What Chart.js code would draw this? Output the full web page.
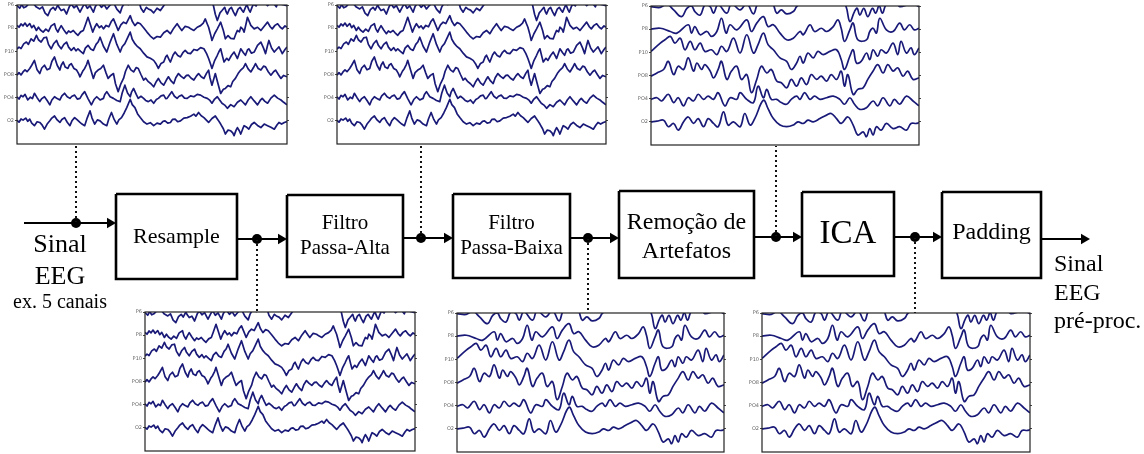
<!DOCTYPE html>
<html lang="pt">
<head>
<meta charset="UTF-8">
<title>Pré-processamento do sinal EEG</title>
<script src="https://cdn.jsdelivr.net/npm/chart.js"></script>
<style>
  html, body { margin: 0; padding: 0; background: #fff; }
  #stage { position: relative; width: 1144px; height: 454px; overflow: hidden; }
  #stage canvas { position: absolute; }
</style>
</head>
<body>
<div id="stage">
  <canvas id="flow" width="1144" height="454" style="left:0;top:0"></canvas>
</div>
<script>
// channel names, top to bottom
const channels = ['P6', 'P8', 'P10', 'PO8', 'PO4', 'O2'];

// raw / high-pass traces (panels before the low-pass): [time s, amplitude uV]
const rawP6 = [[0,-3],[0.04,-14],[0.07,2],[0.1,-12],[0.14,-6],[0.19,10],[0.24,8],[0.29,-9],[0.34,-17],[0.38,-8],[0.42,-35],[0.46,-46],[0.5,-20],[0.54,-10],[0.57,-22],[0.61,0],[0.63,-12],[0.66,-24],[0.7,-18],[0.74,-39],[0.78,-8],[0.81,4],[0.85,-12],[0.89,-3],[0.92,-20],[0.94,-31],[0.98,-8],[1.01,6],[1.05,-14],[1.09,-4],[1.14,-31],[1.17,-6],[1.21,10],[1.26,-10],[1.3,2],[1.34,-17],[1.39,0],[1.44,11],[1.49,-18],[1.54,-34],[1.57,-8],[1.61,11],[1.66,2],[1.71,12],[1.76,6],[1.82,15],[1.85,-14],[1.89,-31],[1.93,-10],[1.96,-17],[2.0,-22],[2.04,-34],[2.09,-14],[2.14,-24],[2.19,-3],[2.24,16],[2.3,25],[2.37,15],[2.45,30],[2.52,18],[2.6,20],[2.68,28],[2.75,35],[2.8,18],[2.86,20],[2.93,0],[2.96,-40],[2.99,-67],[3.03,-34],[3.06,-24],[3.1,-10],[3.12,-28],[3.14,-39],[3.17,-18],[3.2,-10],[3.23,-30],[3.26,-46],[3.3,-18],[3.33,-10],[3.36,-24],[3.38,-31],[3.41,-10],[3.43,2],[3.46,-20],[3.48,-31],[3.51,-8],[3.53,4],[3.57,-4],[3.6,19],[3.65,4],[3.7,10],[3.74,-3],[3.79,10],[3.84,4],[3.87,-8],[3.9,15],[3.96,2],[4.03,-3]];
const rawP8 = [[0,12],[0.03,4],[0.06,18],[0.09,10],[0.12,22],[0.15,8],[0.19,20],[0.22,2],[0.25,12],[0.29,-10],[0.32,4],[0.35,-8],[0.39,-17],[0.43,-4],[0.47,-14],[0.51,10],[0.56,19],[0.58,-2],[0.61,-17],[0.63,-4],[0.66,11],[0.7,-8],[0.74,-24],[0.77,-12],[0.8,-18],[0.84,-10],[0.87,-20],[0.91,-31],[0.95,-16],[0.99,-10],[1.02,14],[1.06,47],[1.09,20],[1.13,-17],[1.16,4],[1.19,19],[1.23,2],[1.26,10],[1.29,-3],[1.33,12],[1.37,6],[1.41,30],[1.44,40],[1.48,12],[1.51,-10],[1.55,14],[1.59,26],[1.63,20],[1.69,54],[1.72,30],[1.76,11],[1.8,24],[1.84,19],[1.89,2],[1.94,-17],[1.99,-34],[2.04,-46],[2.09,-36],[2.14,-39],[2.19,-20],[2.24,-10],[2.27,-18],[2.29,-24],[2.34,0],[2.39,19],[2.43,2],[2.46,-10],[2.51,8],[2.56,4],[2.6,-4],[2.64,-10],[2.69,4],[2.74,11],[2.78,22],[2.81,40],[2.84,18],[2.86,4],[2.89,-28],[2.91,-53],[2.95,-24],[2.99,-3],[3.02,14],[3.04,26],[3.08,-10],[3.11,-46],[3.15,-32],[3.19,-44],[3.24,-46],[3.27,-22],[3.29,-10],[3.32,-16],[3.34,4],[3.37,-4],[3.39,-17],[3.42,20],[3.44,47],[3.49,12],[3.54,-3],[3.59,4],[3.64,-10],[3.69,8],[3.74,26],[3.78,6],[3.81,-3],[3.85,12],[3.89,19],[3.93,4],[3.96,-3],[4.0,10],[4.03,4]];
const rawP10 = [[0,10],[0.03,18],[0.06,12],[0.1,32],[0.14,40],[0.17,30],[0.21,54],[0.25,44],[0.29,69],[0.32,50],[0.36,40],[0.4,58],[0.44,61],[0.47,30],[0.51,11],[0.55,34],[0.59,47],[0.62,26],[0.66,11],[0.7,30],[0.74,40],[0.77,18],[0.81,4],[0.85,16],[0.88,2],[0.91,11],[0.95,0],[0.99,-10],[1.02,14],[1.06,26],[1.1,10],[1.14,4],[1.18,30],[1.21,40],[1.24,61],[1.29,22],[1.34,-3],[1.39,40],[1.44,76],[1.49,30],[1.54,-3],[1.57,20],[1.61,33],[1.65,58],[1.69,83],[1.72,52],[1.76,33],[1.8,20],[1.84,11],[1.89,-8],[1.94,-24],[1.99,-30],[2.04,-39],[2.08,-56],[2.11,-74],[2.15,-52],[2.19,-46],[2.22,-24],[2.24,-17],[2.27,-36],[2.29,-46],[2.33,-16],[2.36,-3],[2.4,-18],[2.44,-24],[2.48,-4],[2.51,4],[2.55,-8],[2.59,-10],[2.64,8],[2.69,4],[2.74,16],[2.79,11],[2.83,-10],[2.86,-31],[2.89,-56],[2.91,-74],[2.95,-40],[2.99,-17],[3.02,2],[3.04,11],[3.07,-24],[3.09,-46],[3.13,-30],[3.16,-39],[3.2,-18],[3.24,-3],[3.27,-20],[3.29,-31],[3.32,-6],[3.34,11],[3.38,-6],[3.41,-17],[3.44,6],[3.46,11],[3.5,-8],[3.54,-3],[3.59,26],[3.64,40],[3.68,14],[3.71,-10],[3.74,26],[3.76,47],[3.8,14],[3.84,-3],[3.88,10],[3.91,19],[3.94,2],[3.96,-10],[4.0,8],[4.03,19]];
const rawPO8 = [[0,-3],[0.03,8],[0.06,-2],[0.09,11],[0.12,20],[0.15,12],[0.19,26],[0.22,40],[0.26,61],[0.3,20],[0.34,4],[0.37,28],[0.41,40],[0.45,20],[0.49,26],[0.52,56],[0.56,76],[0.6,40],[0.64,19],[0.66,40],[0.69,54],[0.72,32],[0.76,26],[0.78,40],[0.81,47],[0.85,26],[0.89,19],[0.92,4],[0.94,-10],[0.98,14],[1.01,26],[1.04,44],[1.06,61],[1.1,22],[1.14,-17],[1.17,8],[1.21,19],[1.25,26],[1.29,40],[1.33,6],[1.36,-17],[1.4,-4],[1.44,4],[1.47,-40],[1.51,-74],[1.55,-40],[1.59,-17],[1.62,14],[1.66,40],[1.7,20],[1.74,11],[1.78,30],[1.81,26],[1.85,0],[1.89,-24],[1.92,-16],[1.96,-31],[2.0,-40],[2.04,-53],[2.08,-30],[2.11,-17],[2.15,-36],[2.19,-46],[2.23,-24],[2.26,-10],[2.3,-28],[2.34,-39],[2.37,-14],[2.41,4],[2.45,-8],[2.49,-17],[2.53,-4],[2.56,-3],[2.6,-16],[2.64,-24],[2.68,-6],[2.71,4],[2.75,-10],[2.79,-17],[2.83,6],[2.86,19],[2.88,-14],[2.91,-46],[2.94,-16],[2.96,4],[3.0,-40],[3.04,-82],[3.08,-64],[3.11,-60],[3.15,-48],[3.19,-53],[3.22,-30],[3.26,-17],[3.3,4],[3.34,19],[3.38,30],[3.41,47],[3.45,24],[3.49,11],[3.53,30],[3.56,47],[3.6,26],[3.64,19],[3.68,36],[3.71,33],[3.75,12],[3.79,-3],[3.83,12],[3.86,19],[3.9,0],[3.94,-17],[3.98,-4],[4.03,-10]];
const rawPO4 = [[0,4],[0.03,-6],[0.06,10],[0.09,4],[0.12,14],[0.16,-10],[0.2,2],[0.23,-4],[0.26,19],[0.3,0],[0.34,-17],[0.37,-4],[0.41,4],[0.45,-12],[0.49,-31],[0.52,-10],[0.56,4],[0.6,-4],[0.64,-10],[0.67,8],[0.71,19],[0.75,4],[0.79,-3],[0.82,6],[0.86,11],[0.9,-6],[0.94,-3],[0.97,12],[1.01,26],[1.06,-4],[1.11,-31],[1.15,-8],[1.19,4],[1.24,-10],[1.29,-3],[1.31,14],[1.34,26],[1.39,4],[1.44,-3],[1.49,-12],[1.54,-17],[1.57,20],[1.61,54],[1.65,20],[1.69,4],[1.71,24],[1.74,40],[1.78,14],[1.81,-3],[1.85,6],[1.89,-3],[1.92,-12],[1.96,-17],[2.0,-10],[2.04,-24],[2.08,-8],[2.11,-3],[2.15,8],[2.19,11],[2.22,-4],[2.24,-3],[2.28,14],[2.31,26],[2.35,6],[2.39,-3],[2.42,6],[2.46,11],[2.5,-2],[2.54,-3],[2.59,8],[2.64,4],[2.69,14],[2.74,11],[2.79,2],[2.84,-3],[2.88,-12],[2.91,-24],[2.95,-6],[2.99,4],[3.03,-12],[3.06,-24],[3.1,-32],[3.14,-46],[3.19,-30],[3.24,-39],[3.29,-20],[3.34,-10],[3.38,-22],[3.41,-31],[3.45,-10],[3.49,4],[3.54,-14],[3.59,-31],[3.63,-12],[3.66,-3],[3.7,-16],[3.74,-24],[3.79,-2],[3.84,11],[3.89,-2],[3.94,-10],[3.98,-20],[4.03,-31]];
const rawO2 = [[0,2],[0.03,-6],[0.06,8],[0.09,3],[0.13,12],[0.16,-2],[0.19,7],[0.22,-10],[0.26,-21],[0.3,-4],[0.34,-7],[0.37,-16],[0.41,-36],[0.45,-14],[0.49,0],[0.52,12],[0.56,21],[0.6,4],[0.64,-7],[0.67,6],[0.71,14],[0.75,-6],[0.79,-21],[0.82,0],[0.86,14],[0.9,4],[0.94,-7],[0.97,-14],[1.01,-21],[1.05,14],[1.09,43],[1.12,12],[1.16,-14],[1.2,4],[1.24,0],[1.29,-14],[1.34,-21],[1.37,8],[1.41,36],[1.45,6],[1.49,-14],[1.52,4],[1.56,14],[1.6,34],[1.64,58],[1.69,93],[1.72,70],[1.76,57],[1.8,30],[1.84,14],[1.89,-4],[1.94,-14],[1.99,-8],[2.04,-21],[2.09,-10],[2.14,-14],[2.18,-2],[2.21,0],[2.25,-10],[2.29,-7],[2.32,6],[2.36,7],[2.4,-4],[2.44,0],[2.49,12],[2.54,14],[2.59,20],[2.64,29],[2.67,20],[2.71,36],[2.75,22],[2.79,14],[2.83,2],[2.86,-7],[2.91,10],[2.96,21],[3.0,4],[3.04,-14],[3.08,-34],[3.11,-57],[3.15,-40],[3.19,-43],[3.22,-52],[3.24,-64],[3.27,-40],[3.29,-29],[3.32,-44],[3.34,-57],[3.37,-34],[3.39,-21],[3.43,-28],[3.46,-36],[3.5,-16],[3.54,-7],[3.59,-20],[3.64,-29],[3.69,-14],[3.74,-21],[3.79,-28],[3.84,-36],[3.88,-18],[3.91,-7],[3.95,-14],[3.99,-7],[4.03,-3]];

// low-pass filtered traces (panels after the low-pass): [time s, amplitude uV]
const smoothP6 = [[0,-3],[0.14,-6],[0.24,8],[0.34,-17],[0.46,-46],[0.54,-10],[0.61,0],[0.66,-24],[0.74,-39],[0.81,4],[0.89,-3],[0.94,-31],[1.01,6],[1.14,-31],[1.21,10],[1.34,-17],[1.44,11],[1.54,-34],[1.61,11],[1.71,12],[1.82,15],[1.89,-31],[1.96,-17],[2.04,-34],[2.14,-24],[2.19,-3],[2.3,25],[2.45,30],[2.6,20],[2.75,35],[2.86,20],[2.93,0],[2.99,-67],[3.06,-24],[3.1,-10],[3.14,-39],[3.2,-10],[3.26,-46],[3.33,-10],[3.38,-31],[3.43,2],[3.48,-31],[3.53,4],[3.6,19],[3.7,10],[3.74,-3],[3.84,4],[3.9,15],[4.03,-3]];
const smoothP8 = [[0,0],[0.14,4],[0.29,-10],[0.39,-17],[0.56,19],[0.61,-17],[0.66,11],[0.74,-24],[0.84,-10],[0.91,-31],[0.99,-10],[1.06,47],[1.13,-17],[1.19,19],[1.29,-3],[1.44,40],[1.51,-10],[1.59,26],[1.69,54],[1.76,11],[1.84,19],[1.94,-17],[2.04,-46],[2.14,-39],[2.24,-10],[2.29,-24],[2.39,19],[2.46,-10],[2.56,4],[2.64,-10],[2.74,11],[2.81,40],[2.86,4],[2.91,-53],[2.99,-3],[3.04,26],[3.11,-46],[3.24,-46],[3.29,-10],[3.34,4],[3.39,-17],[3.44,47],[3.54,-3],[3.64,-10],[3.74,26],[3.81,-3],[3.89,19],[3.96,-3],[4.03,4]];
const smoothP10 = [[0,4],[0.14,40],[0.21,54],[0.29,69],[0.36,40],[0.44,61],[0.51,11],[0.59,47],[0.66,11],[0.74,40],[0.81,4],[0.91,11],[0.99,-10],[1.06,26],[1.14,4],[1.24,61],[1.34,-3],[1.44,76],[1.54,-3],[1.61,33],[1.69,83],[1.76,33],[1.84,11],[1.94,-24],[2.04,-39],[2.11,-74],[2.19,-46],[2.24,-17],[2.29,-46],[2.36,-3],[2.44,-24],[2.51,4],[2.59,-10],[2.69,4],[2.79,11],[2.86,-31],[2.91,-74],[2.99,-17],[3.04,11],[3.09,-46],[3.16,-39],[3.24,-3],[3.29,-31],[3.34,11],[3.41,-17],[3.46,11],[3.54,-3],[3.64,40],[3.71,-10],[3.76,47],[3.84,-3],[3.91,19],[3.96,-10],[4.03,19]];
const smoothPO8 = [[0,-3],[0.09,11],[0.19,26],[0.26,61],[0.34,4],[0.41,40],[0.49,26],[0.56,76],[0.64,19],[0.69,54],[0.76,26],[0.81,47],[0.89,19],[0.94,-10],[1.01,26],[1.06,61],[1.14,-17],[1.21,19],[1.29,40],[1.36,-17],[1.44,4],[1.51,-74],[1.59,-17],[1.66,40],[1.74,11],[1.81,26],[1.89,-24],[1.96,-31],[2.04,-53],[2.11,-17],[2.19,-46],[2.26,-10],[2.34,-39],[2.41,4],[2.49,-17],[2.56,-3],[2.64,-24],[2.71,4],[2.79,-17],[2.86,19],[2.91,-46],[2.96,4],[3.04,-82],[3.11,-60],[3.19,-53],[3.26,-17],[3.34,19],[3.41,47],[3.49,11],[3.56,47],[3.64,19],[3.71,33],[3.79,-3],[3.86,19],[3.94,-17],[4.03,-10]];
const smoothPO4 = [[0,-3],[0.09,4],[0.16,-10],[0.26,19],[0.34,-17],[0.41,4],[0.49,-31],[0.56,4],[0.64,-10],[0.71,19],[0.79,-3],[0.86,11],[0.94,-3],[1.01,26],[1.11,-31],[1.19,4],[1.29,-3],[1.34,26],[1.44,-3],[1.54,-17],[1.61,54],[1.69,4],[1.74,40],[1.81,-3],[1.89,-3],[1.96,-17],[2.04,-24],[2.11,-3],[2.19,11],[2.24,-3],[2.31,26],[2.39,-3],[2.46,11],[2.54,-3],[2.64,4],[2.74,11],[2.84,-3],[2.91,-24],[2.99,4],[3.06,-24],[3.14,-46],[3.24,-39],[3.34,-10],[3.41,-31],[3.49,4],[3.59,-31],[3.66,-3],[3.74,-24],[3.84,11],[3.94,-10],[4.03,-31]];
const smoothO2 = [[0,0],[0.09,3],[0.19,7],[0.26,-21],[0.34,-7],[0.41,-36],[0.49,0],[0.56,21],[0.64,-7],[0.71,14],[0.79,-21],[0.86,14],[0.94,-7],[1.01,-21],[1.09,43],[1.16,-14],[1.24,0],[1.34,-21],[1.41,36],[1.49,-14],[1.56,14],[1.69,93],[1.76,57],[1.84,14],[1.94,-14],[2.04,-21],[2.14,-14],[2.21,0],[2.29,-7],[2.36,7],[2.44,0],[2.54,14],[2.64,29],[2.71,36],[2.79,14],[2.86,-7],[2.96,21],[3.04,-14],[3.11,-57],[3.19,-43],[3.24,-64],[3.29,-29],[3.34,-57],[3.39,-21],[3.46,-36],[3.54,-7],[3.64,-29],[3.74,-21],[3.84,-36],[3.91,-7],[3.99,-7],[4.03,-3]];

const rawSet = [rawP6, rawP8, rawP10, rawPO8, rawPO4, rawO2];
const smoothSet = [smoothP6, smoothP8, smoothP10, smoothPO8, smoothPO4, smoothO2];

// pipeline text
const stageLabels = [['Resample'], ['Filtro', 'Passa-Alta'], ['Filtro', 'Passa-Baixa'], ['Remoção de', 'Artefatos'], ['ICA'], ['Padding']];
const inputLabel = ['Sinal', 'EEG', 'ex. 5 canais'];
const outputLabel = ['Sinal', 'EEG', 'pré-proc.'];

// ---- layout (pixels) ----
const boxes = [
  { x0: 116, y0: 194, x1: 237, y1: 279, size: 22, lines: [237] },
  { x0: 287, y0: 195, x1: 403, y1: 277, size: 21, lines: [223, 248] },
  { x0: 453, y0: 194, x1: 570, y1: 278, size: 21, lines: [223, 248] },
  { x0: 619, y0: 191, x1: 754, y1: 278, size: 24, lines: [223, 252] },
  { x0: 802, y0: 192, x1: 894, y1: 276, size: 33, lines: [234] },
  { x0: 942, y0: 192, x1: 1041, y1: 278, size: 24, lines: [233] }
];
// arrows: start x, end x, y, tap dot x, dotted line target y (panel edge)
const arrows = [
  { xa: 24, xb: 116, y: 223, dot: 76, to: 145 },
  { xa: 237, xb: 287, y: 239, dot: 257, to: 312 },
  { xa: 403, xb: 453, y: 238, dot: 421, to: 145 },
  { xa: 570, xb: 619, y: 238, dot: 588, to: 313 },
  { xa: 754, xb: 802, y: 237, dot: 776, to: 146 },
  { xa: 894, xb: 942, y: 237, dot: 915, to: 313 },
  { xa: 1041, xb: 1090, y: 239, dot: null }
];
// EEG panels: frame box + which trace set
const panels = [
  { x0: 17, y0: 5, x1: 287, y1: 145, set: rawSet, smooth: false },
  { x0: 337, y0: 5, x1: 606, y1: 145, set: rawSet, smooth: false },
  { x0: 651, y0: 6, x1: 919, y1: 146, set: smoothSet, smooth: true },
  { x0: 145, y0: 312, x1: 415, y1: 452, set: rawSet, smooth: false },
  { x0: 457, y0: 313, x1: 724, y1: 453, set: smoothSet, smooth: true },
  { x0: 762, y0: 313, x1: 1030, y1: 453, set: smoothSet, smooth: true }
];

const HEAD = 6;
const flowData = [];
boxes.forEach(b => {
  flowData.push({
    data: [{x: b.x0, y: b.y0}, {x: b.x1, y: b.y0}, {x: b.x1, y: b.y1}, {x: b.x0, y: b.y1}, {x: b.x0, y: b.y0}],
    showLine: true, borderColor: '#000', borderWidth: 2.6, pointRadius: 0, borderJoinStyle: 'miter'
  });
});
arrows.forEach(a => {
  flowData.push({
    data: [{x: a.xa, y: a.y}, {x: a.xb - HEAD, y: a.y}],
    showLine: true, borderColor: '#000', borderWidth: 2.2, pointRadius: 0
  });
  if (a.dot !== null) {
    flowData.push({
      data: [{x: a.dot, y: a.y}, {x: a.dot, y: a.to}],
      showLine: true, borderColor: '#111', borderWidth: 2, borderDash: [2, 3], pointRadius: 0
    });
  }
});
flowData.push({
  data: arrows.map(a => ({x: a.xb - HEAD, y: a.y})),
  pointStyle: 'triangle', rotation: 90, pointRadius: HEAD, backgroundColor: '#000', borderWidth: 0
});
flowData.push({
  data: arrows.filter(a => a.dot !== null).map(a => ({x: a.dot, y: a.y})),
  pointStyle: 'circle', pointRadius: 5, backgroundColor: '#000', borderWidth: 0
});

const textPlugin = {
  id: 'flowText',
  afterDatasetsDraw(chart) {
    const {ctx, scales: {x, y}} = chart;
    ctx.save();
    ctx.fillStyle = '#000';
    ctx.textBaseline = 'middle';
    ctx.textAlign = 'center';
    boxes.forEach((b, i) => {
      ctx.font = b.size + 'px "Liberation Serif", "Times New Roman", serif';
      stageLabels[i].forEach((t, j) => {
        ctx.fillText(t, x.getPixelForValue((b.x0 + b.x1) / 2), y.getPixelForValue(b.lines[j]));
      });
    });
    const inY = [245, 277, 303], inS = [26, 26, 20];
    inputLabel.forEach((t, j) => {
      ctx.font = inS[j] + 'px "Liberation Serif", serif';
      ctx.fillText(t, x.getPixelForValue(60), y.getPixelForValue(inY[j]));
    });
    ctx.textAlign = 'left';
    const outY = [265, 294, 322];
    ctx.font = '24px "Liberation Serif", serif';
    outputLabel.forEach((t, j) => ctx.fillText(t, x.getPixelForValue(1054), y.getPixelForValue(outY[j])));
    ctx.restore();
  }
};

new Chart(document.getElementById('flow'), {
  type: 'scatter',
  data: { datasets: flowData },
  options: {
    responsive: false, animation: false, devicePixelRatio: 1,
    layout: { padding: 0, autoPadding: false },
    plugins: { legend: { display: false }, tooltip: { enabled: false } },
    scales: {
      x: { display: false, min: 0, max: 1144 },
      y: { display: false, min: 0, max: 454, reverse: true }
    }
  },
  plugins: [textPlugin]
});

// ---- EEG panels ----
const framePlugin = {
  id: 'frame',
  afterDatasetsDraw(chart) {
    const a = chart.chartArea, ctx = chart.ctx;
    ctx.save();
    ctx.strokeStyle = '#222';
    ctx.lineWidth = 1.2;
    ctx.strokeRect(a.left, a.top, a.right - a.left, a.bottom - a.top);
    ctx.restore();
  }
};

const stage = document.getElementById('stage');
const chanTicks = axis => { axis.ticks = channels.map((c, i) => ({ value: (5 - i) * 100 })); };

panels.forEach(p => {
  const w = p.x1 - p.x0, h = p.y1 - p.y0;
  const cv = document.createElement('canvas');
  cv.width = w + 23;
  cv.height = h + 8;
  cv.style.left = (p.x0 - 16) + 'px';
  cv.style.top = (p.y0 - 5) + 'px';
  stage.appendChild(cv);

  const datasets = p.set.map((trace, i) => ({
    data: trace.map(([t, v]) => ({ x: t, y: v + (5 - i) * 100 })),
    showLine: true, borderColor: '#191978', borderWidth: 1.7, pointRadius: 0,
    tension: p.smooth ? 0.4 : 0, borderJoinStyle: 'round'
  }));

  new Chart(cv, {
    type: 'scatter',
    data: { datasets },
    options: {
      responsive: false, animation: false, devicePixelRatio: 1,
      layout: { padding: { top: 5, right: 4, bottom: 3, left: 2 }, autoPadding: false },
      plugins: { legend: { display: false }, tooltip: { enabled: false } },
      scales: {
        x: { display: false, min: 0, max: 4.03 },
        y: {
          min: -100, max: 500,
          afterBuildTicks: chanTicks,
          afterFit: s => { s.width = 14; },
          grid: { drawOnChartArea: false, tickLength: 2, color: '#444' },
          border: { display: false },
          ticks: { callback: v => channels[5 - v / 100], font: { size: 5, family: 'DejaVu Sans' }, color: '#666', padding: 1 }
        },
        yR: {
          position: 'right', min: -100, max: 500,
          afterBuildTicks: chanTicks,
          afterFit: s => { s.width = 3; },
          grid: { drawOnChartArea: false, tickLength: 2, color: '#444' },
          border: { display: false },
          ticks: { display: false }
        }
      }
    },
    plugins: [framePlugin]
  });
});
</script>
</body>
</html>
